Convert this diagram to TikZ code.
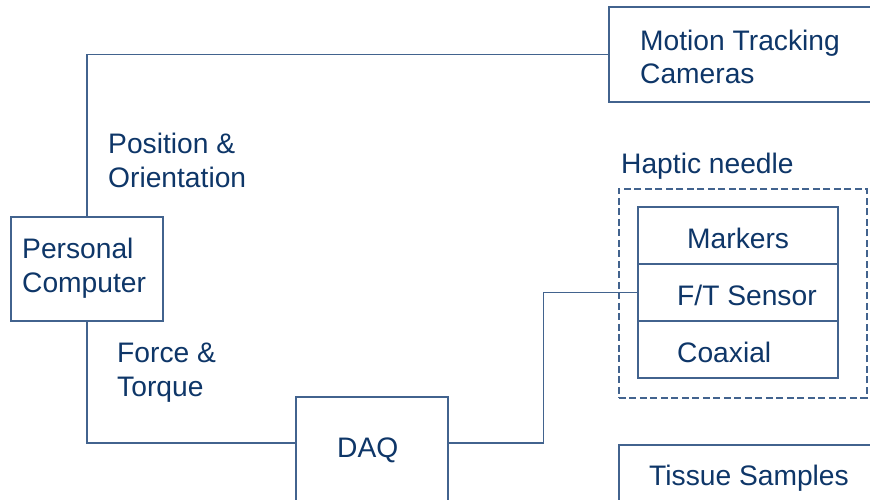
\documentclass[tikz,border=0pt]{standalone}
\usepackage{fontspec}
\setmainfont{Liberation Sans}
\definecolor{linec}{RGB}{66,99,142}
\definecolor{textc}{RGB}{14,54,104}
\begin{document}
\begin{tikzpicture}[x=1pt,y=-1pt,
  box/.style={draw=linec,line width=1.5pt,rectangle,inner sep=0pt,anchor=north west},
  dbox/.style={box,dash pattern=on 7pt off 3.5pt},
  lbl/.style={text=textc,font=\fontsize{28.2}{34}\selectfont,inner sep=0pt,anchor=base west},
  conn/.style={draw=linec,line width=1.5pt}]
\useasboundingbox (0,0) rectangle (870,499);
\clip (0,0) rectangle (870,499);
\fill[white] (0,0) rectangle (870,499);
% boxes
\node[box,minimum width=280,minimum height=95] (mtc) at (608,6) {};
\node[box,minimum width=152,minimum height=104] (pc) at (10,216) {};
\node[box,minimum width=152,minimum height=130] (daq) at (295,396) {};
\node[dbox,minimum width=248,minimum height=209] (hap) at (618,188) {};
\node[box,minimum width=200,minimum height=57] (mk) at (637,206) {};
\node[box,minimum width=200,minimum height=57] (ft) at (637,263) {};
\node[box,minimum width=200,minimum height=57] (cx) at (637,320) {};
\node[box,minimum width=280,minimum height=80] (ts) at (618,444) {};
% texts
\node[lbl] (t1) at (640,50) {Motion Tracking};
\node[lbl] (t2) at (640,83) {Cameras};
\node[lbl] (t3) at (108,153) {Position \&};
\node[lbl] (t4) at (108,187) {Orientation};
\node[lbl] (t5) at (22,258) {Personal};
\node[lbl] (t6) at (22,292) {Computer};
\node[lbl] (t7) at (117,362) {Force \&};
\node[lbl] (t8) at (117,396) {Torque};
\node[lbl] (t9) at (337,457) {DAQ};
\node[lbl] (t10) at (621,173) {Haptic needle};
\node[lbl] (t11) at (687,248) {Markers};
\node[lbl] (t12) at (677,305) {F/T Sensor};
\node[lbl] (t13) at (677,362) {Coaxial};
\node[lbl] (t14) at (649,485) {Tissue Samples};
% connectors
\draw[conn] (mtc.west) -| (pc.north);
\draw[conn] (pc.south) |- ([yshift=-47pt]daq.north west);
\draw[conn] ([yshift=-47pt]daq.north east) -- ++(95,0) |- (ft.west);
\end{tikzpicture}
\end{document}
